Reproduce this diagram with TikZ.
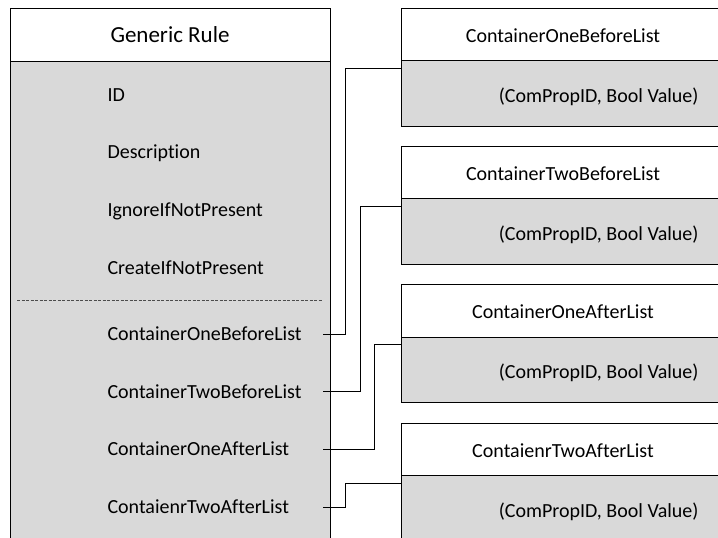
\documentclass[tikz,border=0pt]{standalone}
\usepackage{fontspec}
\setmainfont[Ligatures=NoCommon]{Carlito}
\definecolor{rulegray}{HTML}{D9D9D9}
\tikzset{
  item/.style={anchor=base west, inner sep=0pt, font=\fontsize{20}{24}\selectfont},
  headtext/.style={anchor=base, inner sep=0pt, font=\fontsize{20}{24}\selectfont},
  valtext/.style={anchor=base east, inner sep=0pt, font=\fontsize{20}{24}\selectfont},
  wire/.style={draw=black, line width=1pt},
}

\begin{document}
\begin{tikzpicture}[x=1pt, y=-1pt, line width=1pt]
\clip (0,0) rectangle (718,538);
\fill[white] (0,0) rectangle (718,538);

% Generic rule box (runs off the bottom)
\fill[rulegray] (10,61) rectangle (330,545);
\draw (10,545) -- (10,8) -- (330,8) -- (330,545);
\draw (10,61) -- (330,61);
\node[headtext, font=\fontsize{23}{28}\selectfont] (title) at (170,42) {Generic Rule};

% Fields of the rule
\node[item] (id) at (107,101) {ID};
\node[item] (desc) at (107,158) {Description};
\node[item] (ignore) at (107,216) {IgnoreIfNotPresent};
\node[item] (create) at (107,274) {CreateIfNotPresent};
\draw[black!70, line width=0.8pt, dash pattern=on 3pt off 1.5pt] (17,300.7) -- (323,300.7);
\node[item] (oneb) at (107,340.5) {ContainerOneBeforeList};
\node[item] (twob) at (107,398) {ContainerTwoBeforeList};
\node[item] (onea) at (107,455.5) {ContainerOneAfterList};
\node[item] (twoa) at (107,513.5) {ContaienrTwoAfterList};

% List boxes on the right (run off the right edge)
\fill[rulegray] (401,60.5) rectangle (725,126);
\draw (725,8) -- (401,8) -- (401,126) -- (725,126);
\draw (401,60.5) -- (725,60.5);
\node[headtext] (onebhead) at (563,42) {ContainerOneBeforeList};
\node[valtext] (onebval) at (699,102) {(ComPropID, Bool Value)};

\fill[rulegray] (401,198.8) rectangle (725,264.3);
\draw (725,146.3) -- (401,146.3) -- (401,264.3) -- (725,264.3);
\draw (401,198.8) -- (725,198.8);
\node[headtext] (twobhead) at (563,180.3) {ContainerTwoBeforeList};
\node[valtext] (twobval) at (699,240.3) {(ComPropID, Bool Value)};

\fill[rulegray] (401,337.2) rectangle (725,402.7);
\draw (725,284.7) -- (401,284.7) -- (401,402.7) -- (725,402.7);
\draw (401,337.2) -- (725,337.2);
\node[headtext] (oneahead) at (563,318.7) {ContainerOneAfterList};
\node[valtext] (oneaval) at (699,378.7) {(ComPropID, Bool Value)};

\fill[rulegray] (401,475.5) rectangle (725,545);
\draw (725,423) -- (401,423) -- (401,545);
\draw (401,475.5) -- (725,475.5);
\node[headtext] (twoahead) at (563,457) {ContaienrTwoAfterList};
\node[valtext] (twoaval) at (699,517) {(ComPropID, Bool Value)};

% Connectors
\coordinate (onebout) at (323,334);
\coordinate (twobout) at (323,391.5);
\coordinate (oneaout) at (323,449);
\coordinate (twoaout) at (323,507);
\coordinate (onebin) at (401,68);
\coordinate (twobin) at (401,206.3);
\coordinate (oneain) at (401,344.7);
\coordinate (twoain) at (401,483);
\draw[wire] (onebout) -- ++(22,0) |- (onebin);
\draw[wire] (twobout) -- ++(37,0) |- (twobin);
\draw[wire] (oneaout) -- ++(51,0) |- (oneain);
\draw[wire] (twoaout) -- ++(22,0) |- (twoain);
\end{tikzpicture}
\end{document}
